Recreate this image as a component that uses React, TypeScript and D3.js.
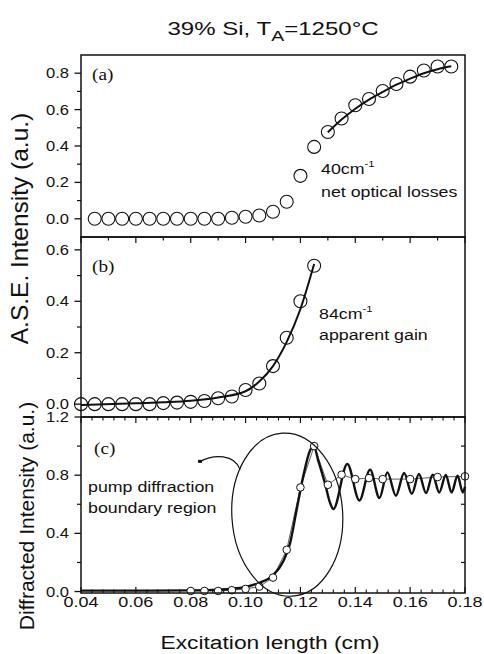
import React from 'react';
import * as d3 from 'd3';

// ---------- data ----------
const X_TICK_LABELS = ['0.04', '0.06', '0.08', '0.10', '0.12', '0.14', '0.16', '0.18'];

// panel (a): ASE intensity, net optical losses
const aX = [0.045, 0.05, 0.055, 0.06, 0.065, 0.07, 0.075, 0.08, 0.085, 0.09, 0.095, 0.1, 0.105, 0.11, 0.115, 0.12, 0.125, 0.13, 0.135, 0.14, 0.145, 0.15, 0.155, 0.16, 0.165, 0.17, 0.175];
const aY = [0, 0, 0, 0, 0, 0, 0, 0, 0, 0, 0.006, 0.011, 0.018, 0.039, 0.094, 0.236, 0.395, 0.477, 0.551, 0.624, 0.658, 0.702, 0.741, 0.781, 0.815, 0.837, 0.837];
const aFitX = [0.13, 0.135, 0.14, 0.145, 0.15, 0.155, 0.16, 0.165, 0.17, 0.175];
const aFitY = [0.475, 0.545, 0.605, 0.655, 0.697, 0.737, 0.77, 0.8, 0.822, 0.838];

// panel (b): apparent gain
const bX = [0.04, 0.045, 0.05, 0.055, 0.06, 0.065, 0.07, 0.075, 0.08, 0.085, 0.09, 0.095, 0.1, 0.105, 0.11, 0.115, 0.12, 0.125];
const bY = [0, 0, 0, 0, 0, 0, 0.004, 0.006, 0.009, 0.012, 0.023, 0.03, 0.055, 0.08, 0.148, 0.258, 0.4, 0.538];
const bFitX = [0.04, 0.06, 0.07, 0.08, 0.09, 0.1, 0.105, 0.11, 0.115, 0.12, 0.125];
const bFitY = [-0.003, 0.003, 0.007, 0.013, 0.026, 0.05, 0.088, 0.148, 0.242, 0.37, 0.545];

// panel (c): diffracted intensity (measured points + thick computed curve)
const cX = [0.08, 0.085, 0.09, 0.095, 0.1, 0.105, 0.11, 0.115, 0.12, 0.125, 0.13, 0.135, 0.14, 0.145, 0.15, 0.16, 0.17, 0.18];
const cY = [0.004, 0.004, 0.004, 0.009, 0.018, 0.034, 0.096, 0.287, 0.716, 1.0, 0.734, 0.803, 0.773, 0.78, 0.773, 0.773, 0.787, 0.792];
const cCurveX = [0.04, 0.06, 0.08, 0.09, 0.095, 0.1, 0.105, 0.11, 0.1138, 0.1162, 0.1186, 0.121, 0.1235, 0.1249, 0.1265, 0.129, 0.1308, 0.132, 0.1371, 0.1415, 0.1454, 0.1488, 0.1517, 0.1548, 0.1578, 0.1606, 0.1632, 0.1658, 0.1682, 0.1706, 0.173, 0.1751, 0.1773, 0.1792, 0.18];
const cCurveY = [0.006, 0.006, 0.008, 0.013, 0.019, 0.032, 0.06, 0.112, 0.21, 0.33, 0.56, 0.79, 0.97, 1.0, 0.9, 0.74, 0.61, 0.567, 0.877, 0.626, 0.838, 0.643, 0.819, 0.659, 0.815, 0.672, 0.808, 0.677, 0.803, 0.681, 0.801, 0.681, 0.796, 0.681, 0.72];

// annotation (data coords of panel c)
const ELLIPSE = { cx: 0.1152, cy: 0.5286, rx: 0.0202, ry: 0.5616 };
const POINTER = [[0.0834, 0.895], [0.0885, 0.945], [0.096, 0.945], [0.098, 0.838]];

// ---------- layout ----------
const W = 484, H = 654;
const L = 81, R = 465;
const TOP_A = 55, TOP_B = 237, TOP_C = 417, BOT = 593;

const SANS = '"Liberation Sans", Arial, sans-serif';
const SERIF = '"Liberation Serif", "Times New Roman", serif';

function SText({ x, y, sx = 1.25, size, anchor = 'start', family = SANS, rotate = 0, children }: any) {
  return (
    <text
      transform={`translate(${x},${y}) scale(${sx},1)${rotate ? ` rotate(${rotate})` : ''}`}
      fontFamily={family}
      fontSize={size}
      textAnchor={anchor}
      fill="#111"
    >
      {children}
    </text>
  );
}

export default function App() {
  const x = d3.scaleLinear().domain([0.04, 0.18]).range([L, R]);
  const yA = d3.scaleLinear().domain([-0.1, 0.9]).range([TOP_B, TOP_A]);
  const yB = d3.scaleLinear().domain([-0.05, 0.65]).range([TOP_C, TOP_B]);
  const yC = d3.scaleLinear().domain([-0.01, 1.2]).range([BOT, TOP_C]);

  const mk = (ys: any, curve: any) =>
    d3.line<number[]>().x((d) => x(d[0])).y((d) => ys(d[1])).curve(curve);

  const aFit = mk(yA, d3.curveMonotoneX)(aFitX.map((v, i) => [v, aFitY[i]]));
  const bFit = mk(yB, d3.curveMonotoneX)(bFitX.map((v, i) => [v, bFitY[i]]));
  const cCurve = mk(yC, d3.curveMonotoneX)(cCurveX.map((v, i) => [v, cCurveY[i]]));
  const cThin = mk(yC, d3.curveLinear)(cX.map((v, i) => [v, cY[i]]));

  // tick positions
  const xMajor = d3.range(0, 8).map((i) => 0.04 + i * 0.02);
  const xMinor01 = d3.range(0, 15).map((i) => 0.04 + i * 0.01).filter((_, i) => i % 2 === 1);
  const xMinor004 = d3.range(0, 36).map((i) => 0.04 + i * 0.004).filter((_, i) => i % 5 !== 0);

  const yTicksLeft = (ys: any, majors: number[], minors: number[], labels: string[]) => (
    <g>
      {majors.map((v, i) => (
        <g key={'M' + i}>
          <line x1={L - 6.5} x2={L} y1={ys(v)} y2={ys(v)} stroke="#111" strokeWidth={1.3} />
          <SText x={L - 12} y={ys(v) + 5} size={14} sx={1.18} anchor="end">{labels[i]}</SText>
        </g>
      ))}
      {minors.map((v, i) => (
        <line key={'m' + i} x1={L - 4} x2={L} y1={ys(v)} y2={ys(v)} stroke="#111" strokeWidth={1.2} />
      ))}
    </g>
  );

  const ePath = () => {
    const cx = x(ELLIPSE.cx), cy = yC(ELLIPSE.cy);
    const rx = x(ELLIPSE.cx + ELLIPSE.rx) - cx;
    const ry = yC(ELLIPSE.cy - ELLIPSE.ry) - cy;
    return { cx, cy, rx, ry };
  };
  const e = ePath();
  const P = POINTER.map((p) => [x(p[0]), yC(p[1])]);
  const pointerD = `M${P[0][0]},${P[0][1]} C${P[1][0]},${P[1][1]} ${P[2][0]},${P[2][1]} ${P[3][0]},${P[3][1]}`;

  return (
    <svg width={W} height={H} viewBox={`0 0 ${W} ${H}`} style={{ display: 'block', position: 'absolute', left: 0, top: 0, background: '#fff' }}>
      <rect x={0} y={0} width={W} height={H} fill="#fff" />

      {/* title */}
      <text transform={`translate(273,35) scale(1.3,1)`} fontFamily={SANS} fontSize={18.5} textAnchor="middle" fill="#111">
        39% Si, T<tspan fontSize={15} dy={6}>A</tspan><tspan dy={-6}>=1250°C</tspan>
      </text>

      {/* ---------- panel (a) ---------- */}
      {yTicksLeft(yA, [0, 0.2, 0.4, 0.6, 0.8], [0.1, 0.3, 0.5, 0.7], ['0.0', '0.2', '0.4', '0.6', '0.8'])}
      {aX.map((v, i) => (
        <circle key={'a' + i} cx={x(v)} cy={yA(aY[i])} r={6.5} fill="none" stroke="#111" strokeWidth={1.1} />
      ))}
      <path d={aFit || ''} fill="none" stroke="#111" strokeWidth={2} />
      <SText x={92} y={80} size={16} sx={1.2} family={SERIF}>(a)</SText>
      <SText x={321} y={173.5} size={14} sx={1.27}>40cm<tspan fontSize={9} dy={-7}>-1</tspan></SText>
      <SText x={321} y={196.5} size={14} sx={1.27}>net optical losses</SText>

      {/* ---------- panel (b) ---------- */}
      {yTicksLeft(yB, [0, 0.2, 0.4, 0.6], [0.1, 0.3, 0.5], ['0.0', '0.2', '0.4', '0.6'])}
      {xMajor.map((v, i) => (
        <line key={'bt' + i} x1={x(v)} x2={x(v)} y1={TOP_B} y2={TOP_B + 6} stroke="#111" strokeWidth={1.2} />
      ))}
      {xMinor01.map((v, i) => (
        <line key={'btm' + i} x1={x(v)} x2={x(v)} y1={TOP_B} y2={TOP_B + 3.5} stroke="#111" strokeWidth={1.2} />
      ))}
      {bX.map((v, i) => (
        <circle key={'b' + i} cx={x(v)} cy={yB(bY[i])} r={6.5} fill="none" stroke="#111" strokeWidth={1.1} />
      ))}
      <path d={bFit || ''} fill="none" stroke="#111" strokeWidth={2} />
      <SText x={92} y={272} size={16} sx={1.2} family={SERIF}>(b)</SText>
      <SText x={319} y={319} size={14} sx={1.27}>84cm<tspan fontSize={9} dy={-7}>-1</tspan></SText>
      <SText x={319} y={340} size={14} sx={1.27}>apparent gain</SText>

      {/* ---------- panel (c) ---------- */}
      {yTicksLeft(yC, [0, 0.4, 0.8, 1.2], [0.2, 0.6, 1.0], ['0.0', '0.4', '0.8', '1.2'])}
      {[0.2, 0.4, 0.6, 0.8, 1.0].map((v, i) => (
        <line key={'cr' + i} x1={R - 4} x2={R} y1={yC(v)} y2={yC(v)} stroke="#111" strokeWidth={1.2} />
      ))}
      {xMajor.map((v, i) => (
        <g key={'ct' + i}>
          <line x1={x(v)} x2={x(v)} y1={TOP_C} y2={TOP_C + 6} stroke="#111" strokeWidth={1.2} />
          <line x1={x(v)} x2={x(v)} y1={BOT} y2={BOT - 6} stroke="#111" strokeWidth={1.2} />
          <SText x={x(v)} y={607} size={15} sx={1.2} anchor="middle">{X_TICK_LABELS[i]}</SText>
        </g>
      ))}
      {xMinor004.map((v, i) => (
        <g key={'ctm' + i}>
          <line x1={x(v)} x2={x(v)} y1={TOP_C} y2={TOP_C + 3.5} stroke="#111" strokeWidth={1.1} />
          <line x1={x(v)} x2={x(v)} y1={BOT} y2={BOT - 3.5} stroke="#111" strokeWidth={1.1} />
        </g>
      ))}
      <path d={cThin || ''} fill="none" stroke="#333" strokeWidth={0.8} />
      <path d={cCurve || ''} fill="none" stroke="#111" strokeWidth={2.4} />
      {cX.map((v, i) => (
        <circle key={'c' + i} cx={x(v)} cy={yC(cY[i])} r={3.8} fill="#fff" stroke="#111" strokeWidth={1} />
      ))}
      <ellipse cx={e.cx} cy={e.cy} rx={e.rx} ry={e.ry} fill="none" stroke="#111" strokeWidth={1.2}
        transform={`rotate(-3.5,${e.cx},${e.cy})`} />
      <path d={pointerD} fill="none" stroke="#111" strokeWidth={1.2} />
      <rect x={P[0][0] - 2} y={P[0][1] - 1.5} width={4} height={3} fill="#111" />
      <SText x={94} y={453.5} size={16} sx={1.2} family={SERIF}>(c)</SText>
      <SText x={88} y={491.7} size={14} sx={1.27}>pump diffraction</SText>
      <SText x={88} y={513.3} size={14} sx={1.27}>boundary region</SText>

      {/* frames */}
      <rect x={L} y={TOP_A} width={R - L} height={TOP_B - TOP_A} fill="none" stroke="#111" strokeWidth={1.5} />
      <rect x={L} y={TOP_B} width={R - L} height={TOP_C - TOP_B} fill="none" stroke="#111" strokeWidth={1.5} />
      <rect x={L} y={TOP_C} width={R - L} height={BOT - TOP_C} fill="none" stroke="#111" strokeWidth={1.5} />

      {/* axis titles */}
      <SText x={28} y={228.5} size={24.5} sx={1} rotate={-90} anchor="middle">A.S.E. Intensity (a.u.)</SText>
      <SText x={34} y={516} size={21} sx={1} rotate={-90} anchor="middle">Diffracted Intensity (a.u.)</SText>
      <SText x={270} y={649} size={19} sx={1.2} anchor="middle">Excitation length (cm)</SText>
    </svg>
  );
}
